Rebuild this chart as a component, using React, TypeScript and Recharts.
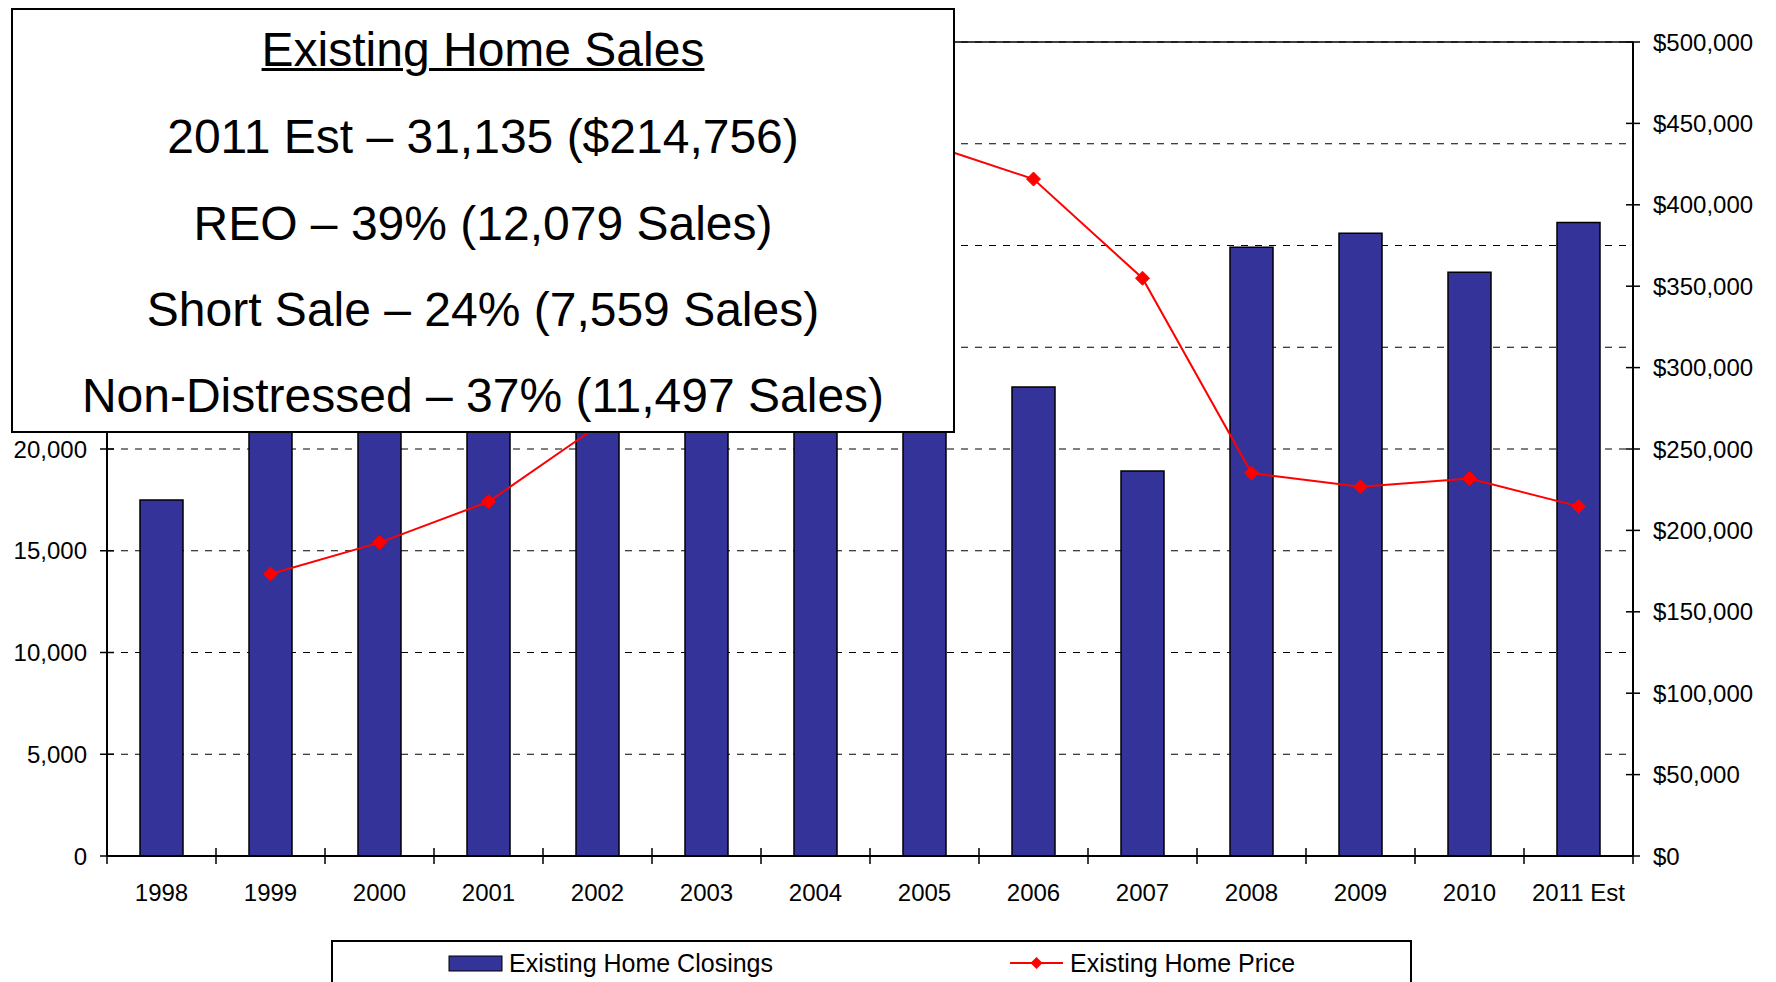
import React from "react";
import {
  ComposedChart,
  Bar,
  Line,
  XAxis,
  YAxis,
  CartesianGrid,
  ReferenceLine,
} from "recharts";

const years = [
  "1998", "1999", "2000", "2001", "2002", "2003", "2004",
  "2005", "2006", "2007", "2008", "2009", "2010", "2011 Est",
];
// bars 1999-2005 and prices 2002-2004 sit behind the text box in the source
const closings = [
  17500, 24500, 25000, 27000, 30500, 33000, 34000,
  31000, 23050, 18920, 29920, 30600, 28690, 31135,
];
const prices = [
  null, 173200, 192500, 217600, 264000, 310000, 380000,
  438000, 415800, 354900, 235200, 226800, 231900, 214756,
];
const leftTicks = [0, 5000, 10000, 15000, 20000, 25000, 30000, 35000, 40000];
const rightTicks = [
  0, 50000, 100000, 150000, 200000, 250000,
  300000, 350000, 400000, 450000, 500000,
];
const boxTitle = "Existing Home Sales";
const boxLines = [
  "2011 Est – 31,135 ($214,756)",
  "REO – 39% (12,079 Sales)",
  "Short Sale – 24% (7,559 Sales)",
  "Non-Distressed – 37% (11,497 Sales)",
];
const barName = "Existing Home Closings";
const lineName = "Existing Home Price";

const W = 1776;
const H = 982;
const M = { top: 42, right: 1, bottom: 66, left: 7 };
const LEFT_W = 100;
const RIGHT_W = 142;
const X_H = 60;
const BAND = (W - M.left - M.right - LEFT_W - RIGHT_W) / years.length;

const BAR_COLOR = "#333399";
const LINE_COLOR = "#FF0000";
const FONT = "'Liberation Sans', Arial, sans-serif";

const data = years.map((year, i) => ({
  year,
  closings: closings[i],
  price: prices[i],
}));

const fmtCount = (v: number) => v.toLocaleString("en-US");
const fmtPrice = (v: number) => "$" + v.toLocaleString("en-US");

function LeftTick({ x, y, payload }: any) {
  return (
    <g>
      <line x1={x - 7} x2={x + 7} y1={y} y2={y} stroke="#000" strokeWidth={1.5} />
      <text x={x - 20} y={y + 8.5} textAnchor="end" fontSize={24} fill="#000" fontFamily={FONT}>
        {fmtCount(payload.value)}
      </text>
    </g>
  );
}

function RightTick({ x, y, payload }: any) {
  return (
    <g>
      <line x1={x - 7} x2={x + 7} y1={y} y2={y} stroke="#000" strokeWidth={1.5} />
      <text x={x + 20} y={y + 8.5} textAnchor="start" fontSize={24} fill="#000" fontFamily={FONT}>
        {fmtPrice(payload.value)}
      </text>
    </g>
  );
}

function XTick({ x, y, payload, index }: any) {
  const half = BAND / 2;
  return (
    <g>
      <line x1={x - half} x2={x - half} y1={y - 8} y2={y + 8} stroke="#000" strokeWidth={1.5} />
      {index === years.length - 1 && (
        <line x1={x + half} x2={x + half} y1={y - 8} y2={y + 8} stroke="#000" strokeWidth={1.5} />
      )}
      <text x={x} y={y + 45} textAnchor="middle" fontSize={24} fill="#000" fontFamily={FONT}>
        {payload.value}
      </text>
    </g>
  );
}

function diamondPath(cx: number, cy: number, r: number) {
  return `M${cx},${cy - r}L${cx + r},${cy}L${cx},${cy + r}L${cx - r},${cy}Z`;
}

function Diamond({ cx, cy, index, value }: any) {
  if (value == null || cx == null || cy == null) return <g key={`dn-${index}`} />;
  return (
    <path key={`d-${index}`} d={diamondPath(cx, cy, 7)} fill={LINE_COLOR} stroke={LINE_COLOR} />
  );
}

export default function App() {
  const lineCenters = [38.7, 125.9, 213.1, 299.2, 385.3];
  return (
    <div style={{ position: "relative", width: W, height: H, overflow: "hidden", fontFamily: FONT, background: "#fff" }}>
      <style>{"body{margin:0;overflow:hidden}"}</style>
      <ComposedChart width={W} height={H} data={data} margin={M}>
        <CartesianGrid
          yAxisId="left"
          vertical={false}
          stroke="#000"
          strokeDasharray="7 7"
        />
        <XAxis
          dataKey="year"
          height={X_H}
          interval={0}
          tickLine={false}
          tickSize={0}
          tickMargin={0}
          axisLine={{ stroke: "#000", strokeWidth: 2 }}
          tick={<XTick />}
        />
        <YAxis
          yAxisId="left"
          orientation="left"
          width={LEFT_W}
          domain={[0, 40000]}
          ticks={leftTicks}
          interval={0}
          tickLine={false}
          tickSize={0}
          tickMargin={0}
          axisLine={{ stroke: "#000", strokeWidth: 2 }}
          tick={<LeftTick />}
        />
        <YAxis
          yAxisId="right"
          orientation="right"
          width={RIGHT_W}
          domain={[0, 500000]}
          ticks={rightTicks}
          interval={0}
          tickLine={false}
          tickSize={0}
          tickMargin={0}
          axisLine={{ stroke: "#000", strokeWidth: 2 }}
          tick={<RightTick />}
        />
        <ReferenceLine yAxisId="left" y={40000} stroke="#000" strokeWidth={1.5} />
        <Bar
          yAxisId="left"
          dataKey="closings"
          name={barName}
          fill={BAR_COLOR}
          stroke="#000"
          strokeWidth={1.5}
          barSize={43}
          isAnimationActive={false}
        />
        <Line
          yAxisId="right"
          dataKey="price"
          name={lineName}
          stroke={LINE_COLOR}
          strokeWidth={2}
          dot={Diamond}
          activeDot={false}
          connectNulls={false}
          isAnimationActive={false}
        />
      </ComposedChart>

      {/* text box laid over the upper-left part of the plot */}
      <div
        style={{
          position: "absolute",
          left: 11,
          top: 8,
          width: 944,
          height: 425,
          boxSizing: "border-box",
          border: "2px solid #000",
          background: "#fff",
          color: "#000",
        }}
      >
        {[boxTitle, ...boxLines].map((t, i) => (
          <div
            key={i}
            style={{
              position: "absolute",
              left: 0,
              right: 0,
              top: lineCenters[i] - 29,
              height: 60,
              lineHeight: "60px",
              fontSize: 48,
              textAlign: "center",
              whiteSpace: "nowrap",
              textDecoration: i === 0 ? "underline" : "none",
              textDecorationThickness: i === 0 ? "3px" : undefined,
            }}
          >
            {t}
          </div>
        ))}
      </div>

      {/* legend */}
      <div
        style={{
          position: "absolute",
          left: 331,
          top: 940,
          width: 1081,
          height: 80,
          boxSizing: "border-box",
          border: "2px solid #000",
          background: "#fff",
          color: "#000",
          fontSize: 25,
        }}
      >
        <svg width={1077} height={40} style={{ position: "absolute", left: 0, top: 0 }}>
          <rect x={116} y={14} width={53} height={15} fill={BAR_COLOR} stroke="#000" strokeWidth={1} />
          <line x1={677} x2={730} y1={21} y2={21} stroke={LINE_COLOR} strokeWidth={2} />
          <path d={diamondPath(703.5, 21, 6)} fill={LINE_COLOR} />
        </svg>
        <div style={{ position: "absolute", left: 176, top: 5, lineHeight: "32px", whiteSpace: "nowrap" }}>
          {barName}
        </div>
        <div style={{ position: "absolute", left: 737, top: 5, lineHeight: "32px", whiteSpace: "nowrap" }}>
          {lineName}
        </div>
      </div>
    </div>
  );
}
